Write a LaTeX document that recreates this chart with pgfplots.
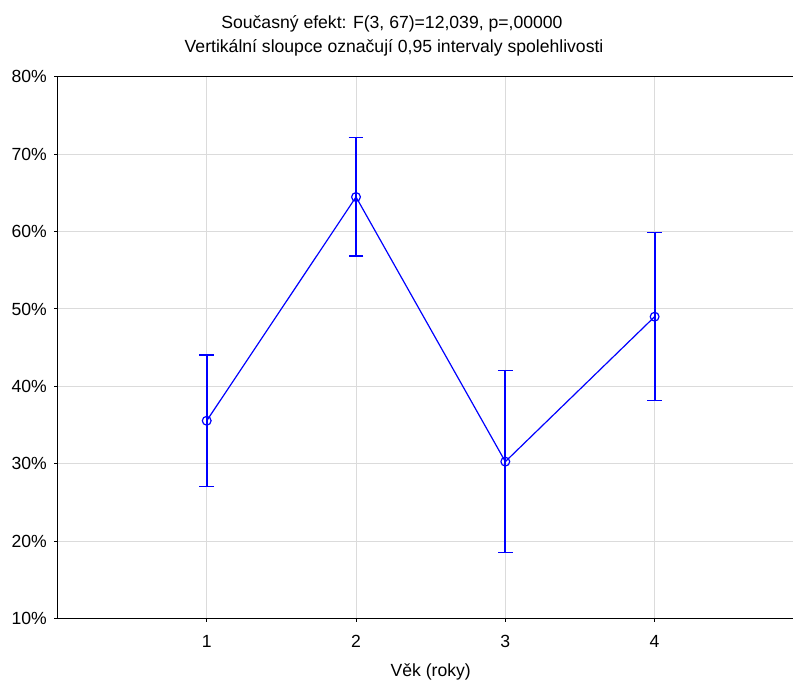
\documentclass[border=0pt]{standalone}
\usepackage{pgfplots}
\usepackage{pgfplotstable}
\pgfplotsset{compat=1.18}
\usepackage{fontspec}
\setmainfont{Liberation Sans}
\pgfplotstableread{
x y ep em
1 35.56 8.50 8.51
2 64.46 7.71 7.62
3 30.28 11.75 11.70
4 49.00 10.85 10.80
}\datatable
\begin{document}
\fontsize{13.2pt}{15.8pt}\selectfont
\begin{tikzpicture}
\useasboundingbox (-43.05pt,-46pt) rectangle (551.7pt,464pt);
\begin{axis}[
  at={(0pt,0pt)}, anchor=south west,
  scale only axis, width=559.9pt, height=406.5pt,
  xmin=0, xmax=5, ymin=10, ymax=80,
  xtick={1,2,3,4}, ytick={10,20,30,40,50,60,70,80},
  xtick pos=bottom, ytick pos=left,
  tick align=outside, major tick length=2.25pt,
  tick style={black, line width=0.75pt},
  axis line style={black, line width=0.9pt},
  grid=major, major grid style={line width=0.75pt, color=black!14},
  /pgf/number format/assume math mode=true,
  yticklabel={\pgfmathprintnumber{\tick}\%},
  yticklabel style={anchor=east, inner sep=0pt, xshift=-5.5pt, font=\fontsize{13.2pt}{15.8pt}\selectfont},
  xticklabel style={anchor=base, inner sep=0pt, yshift=-19.7pt, font=\fontsize{13.2pt}{15.8pt}\selectfont},
]
\addplot[color=blue, line width=0.9pt, mark=o, mark size=3.3pt, mark options={line width=0.9pt, draw=blue},
  error bars/.cd, y dir=both, y explicit,
  error bar style={draw=blue, color=blue, line width=1.5pt},
  error mark options={rotate=90, mark size=5.5pt, line width=1pt, draw=blue, color=blue}]
  table[x=x, y=y, y error plus=ep, y error minus=em] {\datatable};
\end{axis}
\node[anchor=base, inner sep=0pt] at (250.9pt,442.8pt) {Současný efekt: F(3, 67)=12,039, p=,00000};
\node[anchor=base, inner sep=0pt] at (252.5pt,424.5pt) {Vertikální sloupce označují 0,95 intervaly spolehlivosti};
\node[anchor=base, inner sep=0pt] at (280pt,-43.7pt) {Věk (roky)};
\end{tikzpicture}
\end{document}
